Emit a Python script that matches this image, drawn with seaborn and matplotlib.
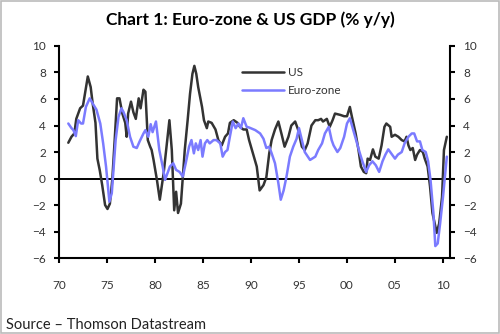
import matplotlib
matplotlib.use("Agg")
import matplotlib.pyplot as plt
import seaborn as sns
import pandas as pd

us_years = [1970.97, 1971.3, 1971.6, 1971.8, 1972.2, 1972.5, 1973.0, 1973.3, 1973.5, 1973.8,
            1974.0, 1974.25, 1974.5, 1974.8, 1975.05, 1975.3, 1975.55, 1975.8, 1976.05, 1976.3,
            1976.6, 1976.9, 1977.05, 1977.2, 1977.5, 1977.75, 1978.0, 1978.3, 1978.5, 1978.8,
            1979.0, 1979.25, 1979.5, 1979.65, 1979.85, 1980.2, 1980.5, 1980.9, 1981.2, 1981.5,
            1981.75, 1982.0, 1982.2, 1982.4, 1982.7, 1982.9, 1983.1, 1983.4, 1983.65, 1983.9,
            1984.1, 1984.3, 1984.5, 1984.9, 1985.1, 1985.4, 1985.55, 1985.9, 1986.3, 1986.6,
            1986.95, 1987.3, 1987.6, 1987.8, 1988.2, 1988.6, 1988.85, 1989.2, 1989.55, 1989.8,
            1990.2, 1990.6, 1990.9, 1991.3, 1991.6, 1991.9, 1992.15, 1992.5, 1992.85, 1993.2,
            1993.5, 1993.9, 1994.2, 1994.6, 1994.9, 1995.3, 1995.6, 1995.9, 1996.3, 1996.7,
            1997.0, 1997.3, 1997.5, 1997.9, 1998.2, 1998.5, 1998.75, 1999.3, 1999.7, 2000.0,
            2000.3, 2000.5, 2000.9, 2001.2, 2001.45, 2001.75, 2002.0, 2002.15, 2002.4, 2002.7,
            2002.95, 2003.3, 2003.6, 2003.9, 2004.1, 2004.5, 2004.65, 2005.0, 2005.35, 2005.7,
            2006.0, 2006.2, 2006.4, 2006.6, 2006.85, 2007.1, 2007.3, 2007.6, 2007.9, 2008.1,
            2008.4, 2008.65, 2008.9, 2009.2, 2009.35, 2009.6, 2009.9, 2010.1, 2010.4]
us_values = [2.7, 3.15, 3.4, 4.5, 5.3, 5.5, 7.7, 6.9, 5.7, 4.2,
             1.5, 0.6, -0.5, -2.0, -2.3, -1.9, -0.1, 2.9, 6.05, 6.05,
             4.9, 4.2, 3.15, 4.9, 5.8, 5.0, 4.5, 6.05, 5.3, 6.7,
             6.55, 2.9, 2.4, 2.15, 1.4, -0.1, -1.6, 0.4, 2.4, 4.4,
             2.15, -2.4, -1.0, -2.6, -1.9, 0.1, 2.15, 4.4, 6.4, 7.9,
             8.5, 7.9, 6.9, 5.4, 4.4, 3.8, 4.3, 4.2, 3.7, 2.9,
             2.5, 3.15, 3.4, 4.2, 4.4, 4.2, 3.9, 3.7, 3.7, 2.9,
             1.9, 0.9, -0.9, -0.5, 0.1, 1.9, 2.9, 3.7, 4.3, 3.3,
             2.4, 3.15, 4.0, 4.3, 3.7, 2.4, 2.15, 2.65, 4.0, 4.4,
             4.4, 4.5, 4.3, 4.5, 3.9, 4.4, 4.9, 4.8, 4.7, 4.7,
             5.4, 4.7, 3.4, 2.15, 0.9, 0.5, 0.4, 1.5, 1.4, 2.2,
             1.65, 1.5, 2.5, 3.9, 4.15, 3.9, 3.15, 3.3, 3.15, 2.9,
             2.8, 3.15, 2.5, 2.15, 2.3, 1.4, 1.8, 2.15, 2.0, 1.5,
             0.9, -0.6, -2.6, -3.6, -4.1, -3.4, -1.4, 2.15, 3.15]

ez_years = [1970.97, 1971.3, 1971.5, 1971.75, 1972.0, 1972.3, 1972.5, 1972.8, 1973.2, 1973.6,
            1973.9, 1974.3, 1974.6, 1974.9, 1975.1, 1975.25, 1975.5, 1975.7, 1975.9, 1976.2,
            1976.5, 1976.7, 1977.05, 1977.4, 1977.75, 1978.1, 1978.4, 1978.8, 1979.0, 1979.3,
            1979.55, 1979.75, 1980.1, 1980.45, 1980.8, 1981.05, 1981.3, 1981.55, 1981.9, 1982.2,
            1982.55, 1982.9, 1983.2, 1983.55, 1983.8, 1984.05, 1984.25, 1984.5, 1984.75, 1984.95,
            1985.2, 1985.45, 1985.7, 1986.1, 1986.4, 1986.8, 1987.05, 1987.3, 1987.55, 1987.8,
            1988.1, 1988.4, 1988.7, 1988.95, 1989.2, 1989.55, 1989.8, 1990.45, 1990.95, 1991.3,
            1991.6, 1991.9, 1992.15, 1992.5, 1992.85, 1993.1, 1993.4, 1993.7, 1994.05, 1994.4,
            1994.75, 1995.0, 1995.3, 1995.6, 1996.15, 1996.7, 1997.0, 1997.4, 1997.7, 1998.1,
            1998.4, 1998.6, 1999.0, 1999.3, 1999.7, 2000.0, 2000.3, 2000.6, 2000.95, 2001.3,
            2001.6, 2002.0, 2002.3, 2002.65, 2003.0, 2003.35, 2003.7, 2004.0, 2004.3, 2004.6,
            2005.0, 2005.3, 2005.7, 2006.0, 2006.4, 2006.75, 2007.0, 2007.3, 2007.6, 2007.85,
            2008.2, 2008.45, 2008.7, 2009.0, 2009.2, 2009.45, 2009.7, 2010.0, 2010.4]
ez_values = [4.15, 3.8, 3.65, 3.2, 4.4, 4.15, 4.15, 5.4, 6.05, 5.55,
             5.2, 4.15, 2.65, 0.9, -0.6, -1.75, -1.1, 0.9, 2.9, 4.65,
             5.3, 5.05, 4.4, 3.15, 2.4, 2.3, 2.8, 3.4, 3.65, 3.15,
             4.1, 3.5, 4.3, 2.15, 0.9, -0.1, 0.4, 0.9, 1.15, 0.65,
             0.5, 0.15, 1.15, 2.4, 2.9, 1.9, 2.65, 2.15, 2.9, 1.65,
             2.65, 2.9, 2.65, 2.9, 2.9, 2.65, 1.65, 2.0, 2.15, 3.15,
             4.3, 3.8, 4.15, 3.8, 4.55, 3.9, 3.85, 3.65, 3.4, 3.0,
             2.3, 2.4, 1.9, 1.15, -0.35, -1.6, -0.9, 0.15, 1.65, 2.4,
             3.0, 3.8, 2.9, 2.0, 1.4, 1.65, 2.15, 2.65, 3.4, 3.9,
             2.9, 2.5, 2.0, 2.3, 3.15, 4.15, 4.55, 3.8, 2.9, 2.0,
             1.3, 0.5, 1.0, 1.3, 1.0, 0.5, 1.3, 1.8, 2.2, 1.9,
             1.5, 1.8, 2.0, 2.65, 3.15, 3.4, 3.4, 2.8, 2.8, 2.15,
             2.0, 1.3, -0.1, -2.6, -5.1, -4.9, -3.4, -1.4, 1.65]

x_ticks = [1970, 1975, 1980, 1985, 1990, 1995, 2000, 2005, 2010]
x_labels = ["70", "75", "80", "85", "90", "95", "00", "05", "10"]
y_ticks = [-6, -4, -2, 0, 2, 4, 6, 8, 10]

title = "Chart 1: Euro-zone & US GDP (% y/y)"
source = "Source \u2013 Thomson Datastream"

sns.set_style("white")
plt.rcParams["font.family"] = ["Lato", "DejaVu Sans"]

df = pd.concat([
    pd.DataFrame({"year": us_years, "value": us_values, "series": "US"}),
    pd.DataFrame({"year": ez_years, "value": ez_values, "series": "Euro-zone"}),
])

fig = plt.figure(figsize=(5.0, 3.34), dpi=100)
ax = fig.add_axes([0.118, 0.2275, 0.782, 0.6348])

ax.axhline(0, color="black", lw=1.4, zorder=1)
sns.lineplot(data=df, x="year", y="value", hue="series",
             palette={"US": "#333333", "Euro-zone": "#7b7bff"},
             linewidth=1.8, ax=ax, sort=False, estimator=None, zorder=3)

ax.set_xlim(1970, 2010.73)
ax.set_ylim(-6, 10)
ax.set_xticks(x_ticks)
ax.set_xticklabels(x_labels)
ax.set_yticks(y_ticks)
ax.set_xlabel("")
ax.set_ylabel("")

for s in ["left", "right", "bottom"]:
    ax.spines[s].set_visible(True)
    ax.spines[s].set_color("black")
    ax.spines[s].set_linewidth(1.5)
ax.spines["top"].set_visible(False)

ax.tick_params(axis="both", direction="out", length=3.5, width=1.5, color="black",
               labelsize=8.5, labelcolor="#333333")
ax.tick_params(axis="y", left=True, right=True, labelleft=True, labelright=True, pad=6)
ax.tick_params(axis="x", bottom=True, pad=12)

leg = ax.legend(loc="upper left", bbox_to_anchor=(0.44, 0.95), frameon=False,
                handlelength=3.6, fontsize=8.5, labelspacing=0.6, handletextpad=0.3)
for t in leg.get_texts():
    t.set_color("#333333")

fig.text(0.5, 0.94, title, ha="center", va="center", fontsize=12.5, fontweight="bold",
         color="black")
fig.text(0.012, 0.028, source, ha="left", va="center", fontsize=10.5, color="#222222")

border = plt.Rectangle((0.002, 0.003), 0.996, 0.994, transform=fig.transFigure,
                       fill=False, edgecolor="#bbbbbb", linewidth=1.2)
fig.patches.append(border)

fig.savefig("out.png", dpi=100)
